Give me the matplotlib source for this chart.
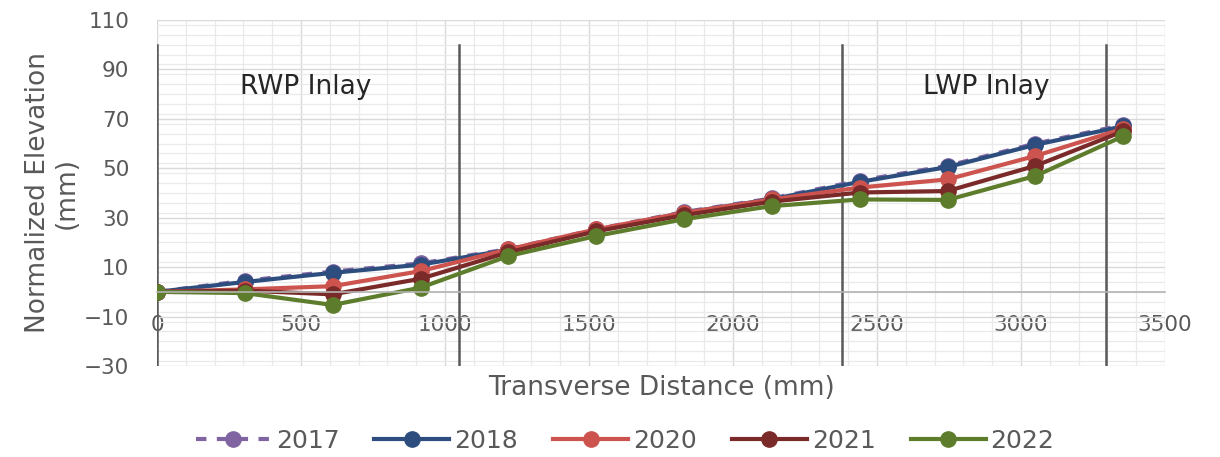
import numpy as np
import matplotlib
matplotlib.use('Agg')
import matplotlib.pyplot as plt
from matplotlib.ticker import MultipleLocator

# transverse positions (mm) and normalized elevation (mm) per survey year
dist = [0, 305, 610, 915, 1220, 1525, 1830, 2135, 2440, 2745, 3050, 3355]
y2017 = [0, 4.5, 8.2, 11.5, 17.3, 25.3, 32.3, 37.8, 45.0, 51.0, 60.0, 67.5]
y2018 = [0, 4.0, 7.7, 11.0, 17.0, 25.0, 32.0, 37.5, 44.5, 50.5, 59.5, 67.0]
y2020 = [0, 1.0, 2.3, 8.4, 17.2, 25.3, 32.0, 37.4, 42.2, 45.5, 55.0, 66.0]
y2021 = [0, 0.5, -1.0, 5.3, 16.0, 24.5, 31.0, 36.5, 40.2, 40.8, 51.0, 65.0]
y2022 = [0, -0.5, -5.3, 1.7, 14.5, 22.6, 29.4, 34.7, 37.4, 37.2, 46.9, 63.0]

# wheel path inlay boundaries (mm)
bounds = [0, 1050, 2380, 3295]
labels = ['RWP Inlay', 'LWP Inlay']
label_x = [515, 2880]

grey = '#595959'
fig = plt.figure(figsize=(12.2, 4.57), dpi=100)
ax = fig.add_axes([157/1220, 1-366/457, 1008/1220, 346/457])

ax.plot(dist, y2017, color='#8064A2', lw=3, ls=(0, (2.5, 2.5)), marker='o', ms=11, label='2017')
ax.plot(dist, y2018, color='#2C4D7E', lw=3, marker='o', ms=11, label='2018')
ax.plot(dist, y2020, color='#CD534F', lw=3, marker='o', ms=11, label='2020')
ax.plot(dist, y2021, color='#7A2A28', lw=3, marker='o', ms=11, label='2021')
ax.plot(dist, y2022, color='#5E7D2C', lw=3, marker='o', ms=11, label='2022')

for b in bounds:
    ax.plot([b, b], [-30, 100], color='#595959', lw=1.8, zorder=1.5)
for t, lx in zip(labels, label_x):
    ax.text(lx, 83, t, fontsize=19, color='#262626', ha='center', va='center')

ax.set_xlim(0, 3500)
ax.set_ylim(-30, 110)
ax.xaxis.set_major_locator(MultipleLocator(500))
ax.xaxis.set_minor_locator(MultipleLocator(100))
ax.set_yticks(np.arange(-30, 111, 20))
ax.yaxis.set_minor_locator(MultipleLocator(4))
ax.grid(which='major', color='#D9D9D9', lw=1.0)
ax.grid(which='minor', color='#EAEAEA', lw=0.9)
ax.set_axisbelow(True)

for s in ['top', 'right', 'left']:
    ax.spines[s].set_visible(False)
ax.spines['bottom'].set_position(('data', 0))
ax.spines['bottom'].set_color('#B3B3B3')
ax.spines['bottom'].set_linewidth(1.2)
ax.tick_params(which='both', length=0)
ax.tick_params(axis='x', labelsize=15.5, labelcolor=grey, pad=17)
ax.tick_params(axis='y', labelsize=15.5, labelcolor=grey, pad=20)

ax.text(0.5, -0.064, 'Transverse Distance (mm)', transform=ax.transAxes,
        fontsize=19, color=grey, ha='center', va='center')
fig.text(0.043, 0.578, 'Normalized Elevation\n(mm)', rotation=90, fontsize=19,
         color=grey, ha='center', va='center', multialignment='center', linespacing=1.1)

leg = fig.legend(loc='center', bbox_to_anchor=(625/1220, 1-441/457), ncol=5, frameon=False,
                 fontsize=18, handlelength=3.0, handletextpad=0.2, columnspacing=1.4)
for txt in leg.get_texts():
    txt.set_color(grey)

fig.savefig('out.png', dpi=100)
